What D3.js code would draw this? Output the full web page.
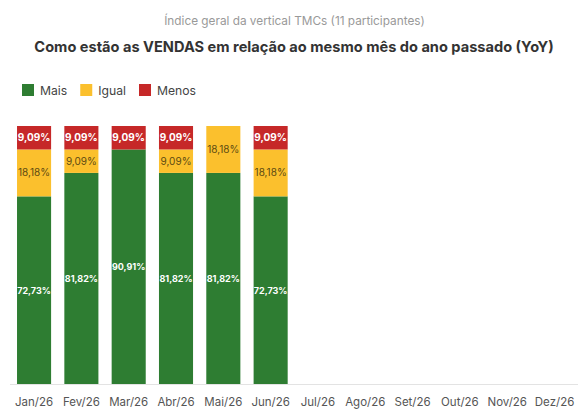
<!DOCTYPE html>
<html lang="pt">
<head>
<meta charset="UTF-8">
<script src="https://d3js.org/d3.v7.min.js"></script>
<style>
  body { margin: 0; background: #fff; font-family: Inter, "Noto Sans", sans-serif; }
</style>
</head>
<body>
<div id="chart"></div>
<script>
// months on the x axis
const months = ["Jan/26", "Fev/26", "Mar/26", "Abr/26", "Mai/26", "Jun/26",
  "Jul/26", "Ago/26", "Set/26", "Out/26", "Nov/26", "Dez/26"];
// share of participants (%), only first six months have data
const mais  = [72.73, 81.82, 90.91, 81.82, 81.82, 72.73];
const igual = [18.18, 9.09, 0, 9.09, 18.18, 18.18];
const menos = [9.09, 9.09, 9.09, 9.09, 0, 9.09];

const seriesNames = ["Mais", "Igual", "Menos"];
const colors = { Mais: "#2e7d32", Igual: "#fbc02d", Menos: "#c62828" };
const textColors = { Mais: "#fff", Igual: "#5b4a12", Menos: "#fff" };

const width = 588, height = 412;
const svg = d3.select("#chart").append("svg")
  .attr("width", width).attr("height", height);

// titles
svg.append("text")
  .attr("x", width / 2 + 0.5).attr("y", 25)
  .attr("text-anchor", "middle")
  .attr("font-size", 11.8).attr("fill", "#999")
  .text("Índice geral da vertical TMCs (11 participantes)");
svg.append("text")
  .attr("x", width / 2).attr("y", 52)
  .attr("text-anchor", "middle")
  .attr("font-size", 14.6).attr("font-weight", 700).attr("fill", "#333")
  .text("Como estão as VENDAS em relação ao mesmo mês do ano passado (YoY)");

// legend
const legend = svg.append("g").attr("transform", "translate(22,84)");
let lx = 0;
seriesNames.forEach(function (name) {
  const g = legend.append("g").attr("transform", `translate(${lx},0)`);
  g.append("rect").attr("width", 12).attr("height", 12).attr("fill", colors[name]);
  const t = g.append("text").attr("x", 18).attr("y", 10.5)
    .attr("font-size", 12.2).attr("fill", "#444").text(name);
  lx += 18 + t.node().getComputedTextLength() + 13;
});

// data table for stacking
const table = mais.map(function (d, i) {
  return { month: months[i], Mais: mais[i], Igual: igual[i], Menos: menos[i] };
});

const x = d3.scaleBand().domain(months).range([10.4, 578.2]).paddingInner(0.28).paddingOuter(0.14);
const y = d3.scaleLinear().domain([0, 100]).range([384, 126]);

const stack = d3.stack().keys(seriesNames)(table);

// baseline
svg.append("line")
  .attr("x1", 10).attr("x2", 578)
  .attr("y1", y(0) + 0.5).attr("y2", y(0) + 0.5)
  .attr("stroke", "#e3e3e3");

stack.forEach(function (layer) {
  const key = layer.key;
  const g = svg.append("g");
  g.selectAll("rect").data(layer).join("rect")
    .attr("x", d => x(d.data.month))
    .attr("width", x.bandwidth())
    .attr("y", d => y(d[1]))
    .attr("height", d => y(d[0]) - y(d[1]))
    .attr("fill", colors[key]);
  g.selectAll("text").data(layer.filter(d => d[1] - d[0] > 0)).join("text")
    .attr("x", d => x(d.data.month) + x.bandwidth() / 2)
    .attr("y", d => (y(d[0]) + y(d[1])) / 2 + 3.5)
    .attr("text-anchor", "middle")
    .attr("font-size", key === "Mais" ? 9 : 10)
    .attr("font-weight", key === "Igual" ? 400 : 700)
    .attr("fill", textColors[key])
    .text(d => d3.format(".2f")(d[1] - d[0]).replace(".", ",") + "%");
});

// x axis labels
svg.append("g").selectAll("text").data(months).join("text")
  .attr("x", d => x(d) + x.bandwidth() / 2)
  .attr("y", 406)
  .attr("text-anchor", "middle")
  .attr("font-size", 11.5).attr("fill", "#555")
  .text(d => d);
</script>
</body>
</html>
